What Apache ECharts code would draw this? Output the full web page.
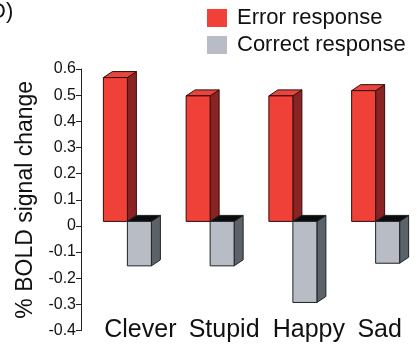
<!DOCTYPE html>
<html>
<head>
<meta charset="utf-8">
<script src="https://cdn.jsdelivr.net/npm/echarts@6/dist/echarts.min.js"></script>
<style>
html,body{margin:0;padding:0;background:#fff;}
#chart{width:417px;height:361px;}
</style>
</head>
<body>
<div id="chart"></div>
<script>
// ---- data ----
var categories = ['Clever', 'Stupid', 'Happy', 'Sad'];
var errorValues = [0.55, 0.48, 0.48, 0.50];
var correctValues = [-0.17, -0.17, -0.31, -0.16];
var seriesNames = ['Error response', 'Correct response'];
var yTicks = { min: -0.4, max: 0.6, interval: 0.1 };

// ---- styling ----
var FONT = 'Liberation Sans, Arial, sans-serif';
var W = 24, DX = 9, DY = -6, SHIFT = -4.5;
var palettes = [
  { front: '#ef4138', top: '#e5463d', side: '#8a2424', stroke: '#3a0808' },
  { front: '#b8bcc4', top: '#0c0c0c', side: '#5b6369', stroke: '#1d2226' }
];

function renderItem(params, api) {
  var ci = api.value(0), v = api.value(1);
  var p0 = api.coord([ci, 0]);
  var p1 = api.coord([ci, v]);
  var pal = palettes[params.seriesIndex];
  var cx = p0[0];
  var x0 = params.seriesIndex === 0 ? cx - W : cx;
  var x1 = x0 + W;
  var yb = p0[1] + SHIFT;
  var yv = p1[1] + SHIFT;
  var capY = Math.min(yb, yv);
  var lowY = Math.max(yb, yv);
  var lw = 1;
  return {
    type: 'group',
    children: [
      { type: 'polygon', shape: { points: [[x1, capY], [x1 + DX, capY + DY], [x1 + DX, lowY + DY], [x1, lowY]] },
        style: { fill: pal.side, stroke: pal.stroke, lineWidth: lw } },
      { type: 'polygon', shape: { points: [[x0, capY], [x0 + DX, capY + DY], [x1 + DX, capY + DY], [x1, capY]] },
        style: { fill: pal.top, stroke: pal.stroke, lineWidth: lw } },
      { type: 'rect', shape: { x: x0, y: capY, width: W, height: lowY - capY },
        style: { fill: pal.front, stroke: pal.stroke, lineWidth: lw } }
    ]
  };
}

function toData(vals) { return vals.map(function (v, i) { return [i, v]; }); }

var labelShift = [26, 28, 32, 8];
var chart = echarts.init(document.getElementById('chart'), null, { renderer: 'canvas' });
chart.setOption({
  animation: false,
  backgroundColor: '#ffffff',
  textStyle: { fontFamily: FONT },
  grid: { left: 86, right: -6, top: 69, bottom: 30.5, containLabel: false },
  legend: {
    orient: 'vertical', left: 202, top: 2, itemGap: 5,
    itemWidth: 20, itemHeight: 18, icon: 'rect',
    itemStyle: { borderWidth: 0 },
    textStyle: { fontSize: 22, color: '#111', fontFamily: FONT, padding: [0, 0, 0, 5] },
    data: seriesNames
  },
  xAxis: {
    type: 'category',
    data: categories.map(function (c, i) {
      return { value: c, textStyle: { padding: [0, 0, 0, labelShift[i]] } };
    }),
    axisLine: { show: false }, axisTick: { show: false },
    axisLabel: { fontSize: 25, color: '#111', margin: -13, fontFamily: FONT, interval: 0 }
  },
  yAxis: {
    type: 'value', min: yTicks.min, max: yTicks.max, interval: yTicks.interval,
    offset: 5,
    splitLine: { show: false },
    axisLine: { show: true, lineStyle: { color: '#222', width: 1 } },
    axisTick: { show: true, inside: false, length: 5, lineStyle: { color: '#222' } },
    axisLabel: { fontSize: 16, color: '#111', margin: 5, fontFamily: FONT,
      formatter: function (v) { return Math.abs(v) < 1e-9 ? '0' : (+v.toFixed(1)).toString(); } },
    name: '% BOLD signal change', nameLocation: 'middle', nameGap: 44,
    nameTextStyle: { fontSize: 23, color: '#111', fontFamily: FONT }
  },
  graphic: [
    { type: 'text', left: -10, top: 1, style: { text: 'D)', fontSize: 22, fill: '#111', fontFamily: FONT } }
  ],
  series: [
    { name: seriesNames[0], type: 'custom', renderItem: renderItem, data: toData(errorValues),
      itemStyle: { color: palettes[0].front }, encode: { x: 0, y: 1 }, clip: false },
    { name: seriesNames[1], type: 'custom', renderItem: renderItem, data: toData(correctValues),
      itemStyle: { color: palettes[1].front }, encode: { x: 0, y: 1 }, clip: false }
  ]
});
</script>
</body>
</html>
